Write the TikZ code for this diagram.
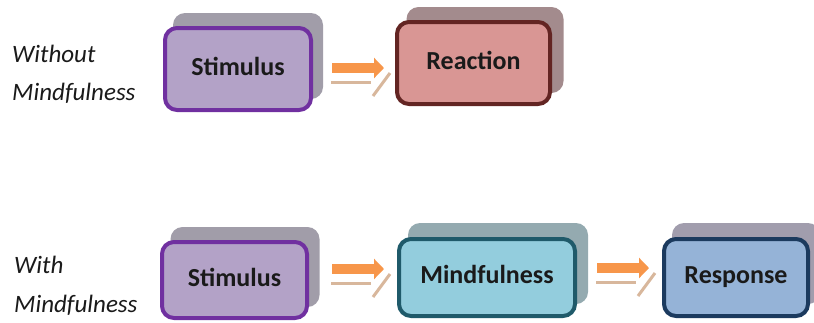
\documentclass[tikz,border=0pt]{standalone}
\usepackage{fontspec}
\setmainfont{Carlito}
\usetikzlibrary{arrows.meta,calc}
\definecolor{stimfill}{HTML}{B3A2C7}
\definecolor{stimline}{HTML}{7030A0}
\definecolor{stimshadow}{HTML}{A19DA9}
\definecolor{reacfill}{HTML}{D99694}
\definecolor{reacline}{HTML}{632523}
\definecolor{reacshadow}{HTML}{A38B8D}
\definecolor{mindfill}{HTML}{93CDDD}
\definecolor{mindline}{HTML}{1F5A6A}
\definecolor{mindshadow}{HTML}{94AAB0}
\definecolor{respfill}{HTML}{95B3D7}
\definecolor{respline}{HTML}{1B3A5E}
\definecolor{respshadow}{HTML}{A19DAD}
\definecolor{flowor}{HTML}{F7964A}
\definecolor{flowtan}{HTML}{D8B79C}
\definecolor{labeltext}{HTML}{1A1A1A}
\tikzset{
  box/.style={rectangle, rounded corners=12pt, line width=4pt, inner sep=0pt,
    font=\fontsize{26}{28}\selectfont\bfseries, text=labeltext,
    text height=17pt, text depth=5pt},
  shadowbox/.style={rectangle, rounded corners=12pt, inner sep=0pt, draw=none},
  sidelabel/.style={anchor=base west, inner sep=0pt,
    font=\fontsize{25}{30}\selectfont\itshape, text=labeltext},
  flowbar/.style={draw=flowor, line width=10pt, -{Triangle[length=10pt,width=20pt]}},
  flowline/.style={draw=flowtan, line width=3pt},
}
\newcommand\flowarrow[1]{%
  \draw[flowbar] (#1) -- ($(#1)+(52,0)$);
  \draw[flowline] ($(#1)+(-1,14)$) -- ($(#1)+(39,14)$);
  \draw[flowline] ($(#1)+(41,28)$) -- ($(#1)+(58,5)$);
}
\begin{document}
\begin{tikzpicture}[x=1pt,y=-1pt]
\useasboundingbox (0,0) rectangle (814,322);
\fill[white] (0,0) rectangle (814,322);

% labels
\node[sidelabel] (l1a) at (12,62) {Without};
\node[sidelabel] (l1b) at (12,100) {Mindfulness};
\node[sidelabel] (l2a) at (14,273) {With};
\node[sidelabel] (l2b) at (14,312) {Mindfulness};

% top row
\node[shadowbox, fill=stimshadow, minimum width=150pt, minimum height=86pt] (s1sh) at (248,56) {};
\node[box, fill=stimfill, draw=stimline, minimum width=146pt, minimum height=82pt] (s1) at (238,69) {Stimulus};
\node[shadowbox, fill=reacshadow, minimum width=157pt, minimum height=86pt] (r1sh) at (485,50) {};
\node[box, fill=reacfill, draw=reacline, minimum width=153pt, minimum height=82pt] (r1) at (473.5,63) {Reaction};

% bottom row
\node[shadowbox, fill=stimshadow, minimum width=149pt, minimum height=80pt] (s2sh) at (245,267) {};
\node[box, fill=stimfill, draw=stimline, minimum width=145pt, minimum height=76pt] (s2) at (234.5,280) {Stimulus};
\node[shadowbox, fill=mindshadow, minimum width=180pt, minimum height=81pt] (m2sh) at (498,263.5) {};
\node[box, fill=mindfill, draw=mindline, minimum width=176pt, minimum height=77pt] (m2) at (487,277.5) {Mindfulness};
\node[shadowbox, fill=respshadow, minimum width=148pt, minimum height=81pt] (p2sh) at (746,263.5) {};
\node[box, fill=respfill, draw=respline, minimum width=144pt, minimum height=77pt] (p2) at (736,277.5) {Response};

% connectors
\coordinate (f1) at ($(s1.east)+(19,-1)$);
\flowarrow{f1}
\coordinate (f2) at ($(s2.east)+(23,-11)$);
\flowarrow{f2}
\coordinate (f3) at ($(m2.east)+(20,-9.5)$);
\flowarrow{f3}
\end{tikzpicture}
\end{document}
